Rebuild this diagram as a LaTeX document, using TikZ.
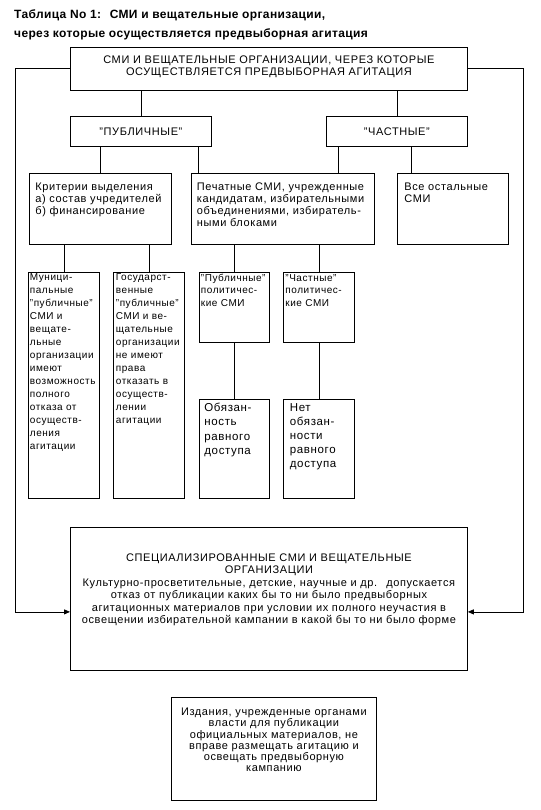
\documentclass[tikz,border=0pt]{standalone}
\usepackage{fontspec}
\setmainfont{Liberation Sans}[LetterSpace=5.5]
\newfontfamily\headfont{Liberation Sans}[LetterSpace=3]
\usetikzlibrary{arrows.meta}

\begin{document}
\begin{tikzpicture}[x=1pt,y=-1pt,
        box/.style={draw,line width=0.8pt,anchor=north west,inner xsep=4pt,
            inner ysep=0pt,font=\fontsize{11}{12}\selectfont},
        lbox/.style={box,align=left},
        cbox/.style={box,align=center},
        narrow/.style={lbox,inner xsep=1.5pt,text width=68pt,
            font=\fontsize{10}{13}\selectfont},
        link/.style={line width=0.8pt},
        arr/.style={link,-{Triangle[length=6pt,width=5pt]}},
        head/.style={anchor=north west,inner sep=0pt,align=left,
            font=\headfont\bfseries\fontsize{12}{19}\selectfont}
    ]
\useasboundingbox (0,0) rectangle (540,810);

\node[head] (title) at (14,9.5) {Таблица No 1:~ СМИ и вещательные организации,\\
    через которые осуществляется предвыборная агитация};

\node[cbox,text width=389pt,text height=16pt,text depth=27pt] (smi) at (70,47)
    {СМИ И ВЕЩАТЕЛЬНЫЕ ОРГАНИЗАЦИИ, ЧЕРЕЗ КОТОРЫЕ\\ОСУЩЕСТВЛЯЕТСЯ ПРЕДВЫБОРНАЯ АГИТАЦИЯ};
\node[cbox,text width=133pt,text height=19pt,text depth=11pt] (pub) at (70,116) {"ПУБЛИЧНЫЕ"};
\node[cbox,text width=133pt,text height=19pt,text depth=11pt] (priv) at (326,116) {"ЧАСТНЫЕ"};

\node[lbox,inner xsep=6pt,text width=130pt,text height=17pt,text depth=54pt] (crit) at (29,173)
    {Критерии выделения\\а) состав учредителей\\б) финансирование};
\node[lbox,inner xsep=5.5pt,text width=172pt,text height=17pt,text depth=54pt] (print) at (191,173)
    {Печатные СМИ, учрежденные\\кандидатам, избирательными\\объединениями, избиратель-\\ными блоками};
\node[lbox,inner xsep=7pt,text width=97pt,text height=17pt,text depth=54pt] (rest) at (397,173)
    {Все остальные\\СМИ};

\node[narrow,text height=8pt,text depth=218pt] (mun) at (28,272)
    {Муници-\\пальные\\"публичные"\\СМИ и\\вещате-\\льные\\организации\\имеют\\возможность\\полного\\отказа от\\осуществ-\\ления\\агитации};
\node[narrow,inner xsep=2.5pt,text width=66pt,text height=8pt,text depth=218pt] (gos) at (113,272)
    {Государст-\\венные\\"публичные"\\СМИ и ве-\\щательные\\организации\\не имеют\\права\\отказать в\\осуществ-\\лении\\агитации};
\node[narrow,text width=67pt,text height=9pt,text depth=61pt,
    font=\fontsize{10}{12.5}\selectfont] (pubpol) at (199,272) {"Публичные"\\политичес-\\кие СМИ};
\node[narrow,inner xsep=2pt,text width=67pt,text height=9pt,text depth=61pt,
    font=\fontsize{10}{12.5}\selectfont] (privpol) at (283,272) {"Частные"\\политичес-\\кие СМИ};

\node[lbox,inner xsep=5pt,text width=60pt,text height=12pt,text depth=87pt,
    font=\fontsize{11.5}{14.5}\selectfont] (duty) at (199,399) {Обязан-\\ность\\равного\\доступа};
\node[lbox,inner xsep=6.5pt,text width=58pt,text height=12pt,text depth=87pt,
    font=\fontsize{11.5}{14}\selectfont] (noduty) at (283,399) {Нет\\обязан-\\ности\\равного\\доступа};

\node[cbox,inner xsep=3pt,text width=391pt,text height=34pt,text depth=109pt,
    font=\fontsize{11}{12.4}\selectfont] (spec) at (70,527)
    {СПЕЦИАЛИЗИРОВАННЫЕ СМИ И ВЕЩАТЕЛЬНЫЕ\\ОРГАНИЗАЦИИ\\
    Культурно-просветительные, детские, научные и др.~ допускается\\
    отказ от публикации каких бы то ни было предвыборных\\
    агитационных материалов при условии их полного неучастия в\\
    освещении избирательной кампании в какой бы то ни было форме};

\node[cbox,text width=197pt,text height=18pt,text depth=85pt,
    font=\fontsize{11}{11.3}\selectfont] (ofic) at (171,697)
    {Издания, учрежденные органами\\власти для публикации\\официальных материалов, не\\
    вправе размещать агитацию и\\освещать предвыборную\\кампанию};

% stems
\coordinate (pubr) at ([xshift=7pt]print.north west);
\coordinate (privl) at ([xshift=-36pt]print.north east);
\coordinate (restl) at ([xshift=14pt]rest.north west);
\draw[link] (pub.north) -- (pub.north |- smi.south);
\draw[link] (priv.north) -- (priv.north |- smi.south);
\draw[link] (crit.north) -- (crit.north |- pub.south);
\draw[link] (pubr) -- (pubr |- pub.south);
\draw[link] (privl) -- (privl |- priv.south);
\draw[link] (restl) -- (restl |- priv.south);
\draw[link] (mun.north) -- (mun.north |- crit.south);
\draw[link] (gos.north) -- (gos.north |- crit.south);
\draw[link] (pubpol.north) -- (pubpol.north |- print.south);
\draw[link] (privpol.north) -- (privpol.north |- print.south);
\draw[link] (pubpol.south) -- (duty.north);
\draw[link] (privpol.south) -- (noduty.north);

% outer arrows
\draw[arr] (smi.west) -- ++(-55,0) |- ([yshift=-13pt]spec.west);
\draw[arr] (smi.east) -- ++(56,0) |- ([yshift=-13pt]spec.east);
\end{tikzpicture}
\end{document}
